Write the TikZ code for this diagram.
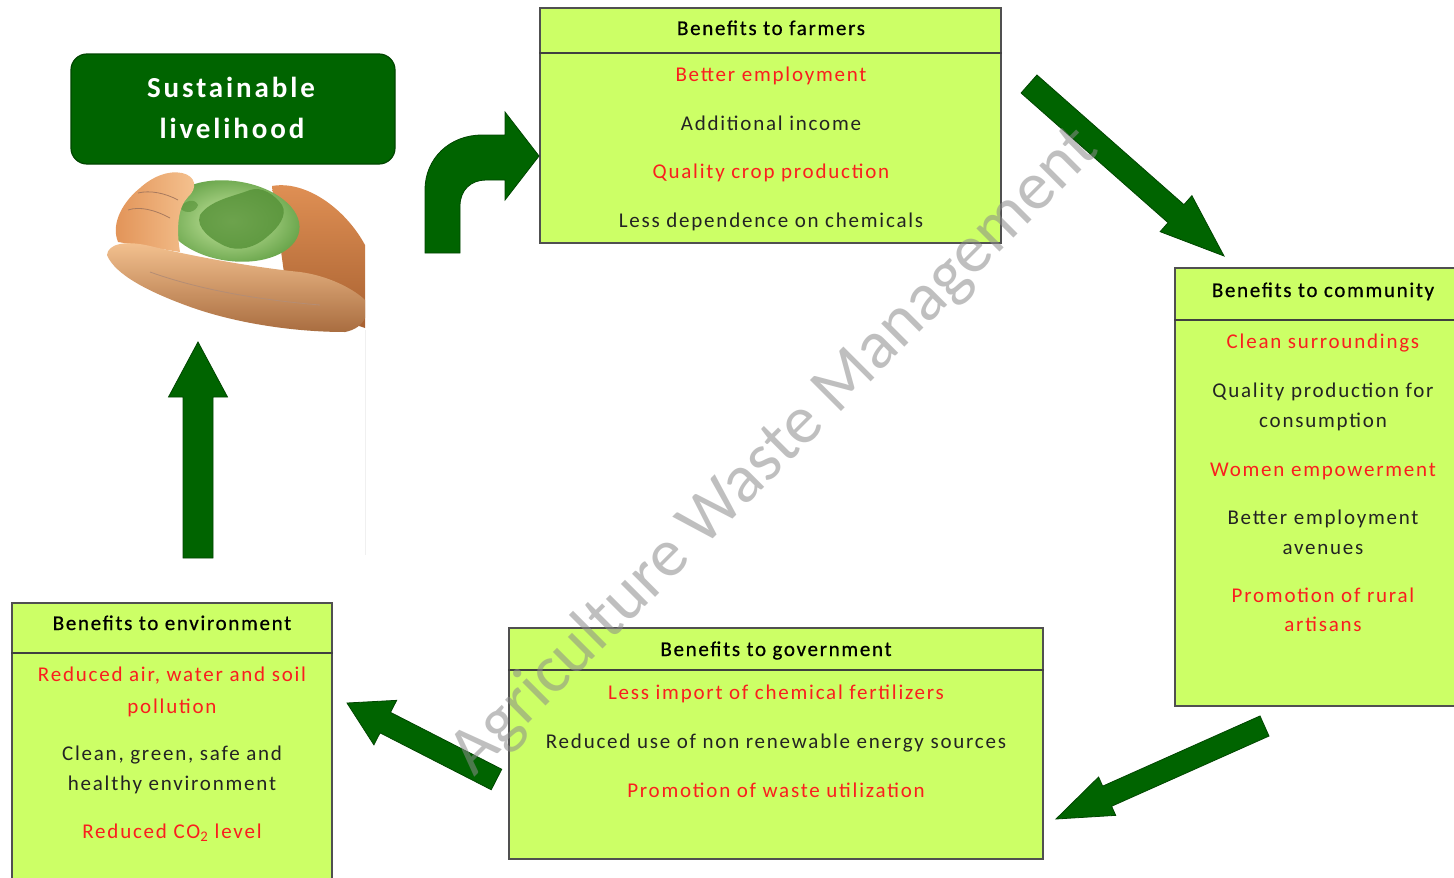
\documentclass[tikz,border=0pt]{standalone}
\usepackage{fontspec}
\setmainfont{Carlito}
\newfontfamily\bodyfont{Carlito}[LetterSpace=8.5]
\newfontfamily\headfont{Carlito}[LetterSpace=8,FakeBold=0.6]
\newfontfamily\titlefont{Carlito}[LetterSpace=10]
\newfontfamily\wmfont{Carlito}
\usetikzlibrary{calc}
\definecolor{boxfill}{RGB}{204,255,102}
\definecolor{boxline}{RGB}{80,80,80}
\definecolor{dgreen}{RGB}{0,100,0}
\definecolor{dgreenline}{RGB}{0,70,0}
\definecolor{itemred}{RGB}{250,30,30}
\definecolor{itemdark}{RGB}{35,35,35}
\definecolor{wmtext}{RGB}{140,140,140}
\definecolor{skinlight}{RGB}{245,195,145}
\definecolor{skinmid}{RGB}{225,145,85}
\definecolor{skindark}{RGB}{130,65,25}
\definecolor{globelight}{RGB}{205,235,165}
\definecolor{globedark}{RGB}{105,165,75}
\definecolor{continent}{RGB}{85,145,55}
\newcommand\myblockarrow[5]{%
  \coordinate (ba-b) at ($(#2)!#5!(#1)$);
  \filldraw[blockarr] ($(#1)!#3!90:(#2)$) -- ($(ba-b)!#3!90:(#2)$) -- ($(ba-b)!#4!90:(#2)$) -- (#2) -- ($(ba-b)!#4!-90:(#2)$) -- ($(ba-b)!#3!-90:(#2)$) -- ($(#1)!#3!-90:(#2)$) -- cycle;}
\begin{document}
\begin{tikzpicture}[x=1pt,y=-1pt,
  benefitbox/.style={draw=boxline, fill=boxfill, line width=1.4pt, inner sep=0pt},
  divider/.style={draw=black!75, line width=2pt},
  txt/.style={anchor=base, inner sep=0pt, font=\bodyfont\fontsize{21}{25}\selectfont},
  headtxt/.style={anchor=base, inner sep=0pt, font=\headfont\fontsize{21}{25}\selectfont, text=black},
  redtxt/.style={txt, text=itemred},
  darktxt/.style={txt, text=itemdark},
  blockarr/.style={fill=dgreen, draw=dgreenline, line width=0.8pt, line join=miter},
  susbox/.style={draw=dgreenline, fill=dgreen, line width=1.2pt, rounded corners=16pt, inner sep=0pt},
  sustxt/.style={anchor=base, inner sep=0pt, text=white, font=\titlefont\bfseries\fontsize{29}{33}\selectfont}
]
\useasboundingbox (0,0) rectangle (1454,878);
\clip (0,0) rectangle (1454,878);
\fill[white] (0,0) rectangle (1454,878);

% ---------- picture: hands holding a globe ----------
\shade[top color=skinmid, bottom color=skindark!60!skinmid]
  (272,186) .. controls (305,180) and (345,208) .. (365,245) -- (365,328)
  .. controls (335,318) and (300,300) .. (285,280) -- cycle;
\shade[inner color=globelight, outer color=globedark, rotate around={-8:(232,221)}]
  (232,221) ellipse [x radius=68, y radius=40];
\fill[continent, opacity=0.8]
  (200,215) .. controls (210,200) and (235,196) .. (250,190)
  .. controls (262,186) and (275,195) .. (282,205)
  .. controls (288,215) and (278,228) .. (268,236)
  .. controls (255,248) and (238,252) .. (225,246)
  .. controls (212,240) and (195,228) .. (200,215) -- cycle;
\fill[continent, opacity=0.6] (180,208) .. controls (185,200) and (195,198) .. (198,205) .. controls (196,212) and (186,215) .. (180,208) -- cycle;
\shade[left color=skinmid, right color=skinlight]
  (118,242) .. controls (110,222) and (125,200) .. (140,188)
  .. controls (152,177) and (168,170) .. (182,173)
  .. controls (196,176) and (198,188) .. (188,197)
  .. controls (178,207) and (176,228) .. (180,252) -- cycle;
\draw[skindark!70, line width=0.8pt] (128,210) .. controls (140,206) and (155,210) .. (170,218);
\draw[skindark!70, line width=0.8pt] (138,193) .. controls (150,190) and (165,193) .. (178,200);
\shade[top color=skinlight, bottom color=skinmid!75!black]
  (107,255) .. controls (108,244) and (125,240) .. (150,246)
  .. controls (200,258) and (260,268) .. (300,272)
  .. controls (330,276) and (355,290) .. (365,300) -- (365,318)
  .. controls (362,325) and (355,330) .. (345,332)
  .. controls (290,332) and (230,322) .. (185,305)
  .. controls (150,292) and (115,275) .. (107,255) -- cycle;
\draw[skindark!60, line width=0.8pt] (150,272) .. controls (200,290) and (260,300) .. (320,305);
\draw[black!6, line width=0.8pt] (365,330) -- (365,555);

% ---------- title box ----------
\node[susbox, minimum width=324pt, minimum height=110pt] (sus) at (233,109) {};
\node[sustxt] (sus1) at (231,97) {Sustainable};
\node[sustxt] (sus2) at (232,138) {livelihood};

% ---------- benefit boxes ----------
\node[benefitbox, minimum width=461pt, minimum height=235pt] (farm) at (770.5,125.5) {};
\draw[divider] ([yshift=-46pt]farm.north west) -- ([yshift=-46pt]farm.north east);
\node[headtxt] (f0) at (771,35) {Benefits to farmers};
\node[redtxt]  (f1) at (771,81) {Better employment};
\node[darktxt] (f2) at (771,130) {Additional income};
\node[redtxt]  (f3) at (771,178) {Quality crop production};
\node[darktxt] (f4) at (771,227) {Less dependence on chemicals};

\node[benefitbox, minimum width=295pt, minimum height=438pt] (comm) at (1322.5,487) {};
\draw[divider] ([yshift=-53pt]comm.north west) -- ([yshift=-53pt]comm.north east);
\node[headtxt] (c0) at (1323,297) {Benefits to community};
\node[redtxt]  (c1) at (1323,348) {Clean surroundings};
\node[darktxt] (c2) at (1323,397) {Quality production for};
\node[darktxt] (c2b) at (1323,427) {consumption};
\node[redtxt]  (c3) at (1323,476) {Women empowerment};
\node[darktxt] (c4) at (1323,524) {Better employment};
\node[darktxt] (c4b) at (1323,554) {avenues};
\node[redtxt]  (c5) at (1323,602) {Promotion of rural};
\node[redtxt]  (c5b) at (1323,631) {artisans};

\node[benefitbox, minimum width=534pt, minimum height=231pt] (gov) at (776,743.5) {};
\draw[divider] ([yshift=-43pt]gov.north west) -- ([yshift=-43pt]gov.north east);
\node[headtxt] (g0) at (776,656) {Benefits to government};
\node[redtxt]  (g1) at (776,699) {Less import of chemical fertilizers};
\node[darktxt] (g2) at (776,748) {Reduced use of non renewable energy sources};
\node[redtxt]  (g3) at (776,797) {Promotion of waste utilization};

\node[benefitbox, minimum width=320pt, minimum height=297pt] (env) at (172,751.5) {};
\draw[divider] ([yshift=-51pt]env.north west) -- ([yshift=-51pt]env.north east);
\node[headtxt] (e0) at (172,630) {Benefits to environment};
\node[redtxt]  (e1) at (172,681) {Reduced air, water and soil};
\node[redtxt]  (e1b) at (172,713) {pollution};
\node[darktxt] (e2) at (172,760) {Clean, green, safe and};
\node[darktxt] (e2b) at (172,790) {healthy environment};
\node[redtxt]  (e3) at (172,838) {Reduced CO\textsubscript{2} level};

% ---------- arrows ----------
\filldraw[blockarr] (425,253) -- (425,190) .. controls (425,158) and (450,135) .. (482,135)
  -- (505,135) -- (505,112) -- (539,156) -- (505,200) -- (505,180) -- (486,180)
  .. controls (471,180) and (460,190) .. (460,206) -- (460,253) -- cycle;

\coordinate (a2tail) at (1029,84);   \coordinate (a2tip) at (1224,256);
\myblockarrow{a2tail}{a2tip}{12pt}{24pt}{64pt}
\coordinate (a3tail) at (1264.5,726); \coordinate (a3tip) at (1056,819);
\myblockarrow{a3tail}{a3tip}{11pt}{21pt}{56pt}
\coordinate (a4tail) at (496.5,779.5); \coordinate (a4tip) at (347,703);
\myblockarrow{a4tail}{a4tip}{11.5pt}{25pt}{43pt}
\coordinate (a5tail) at (198,558); \coordinate (a5tip) at (198,342);
\myblockarrow{a5tail}{a5tip}{15pt}{29.5pt}{55pt}

% ---------- watermark ----------
\node[text=wmtext, text opacity=0.55, rotate=45, inner sep=0pt] (wm) at (775,452)
  {\resizebox{885pt}{!}{\wmfont Agriculture Waste Management}};
\end{tikzpicture}
\end{document}
